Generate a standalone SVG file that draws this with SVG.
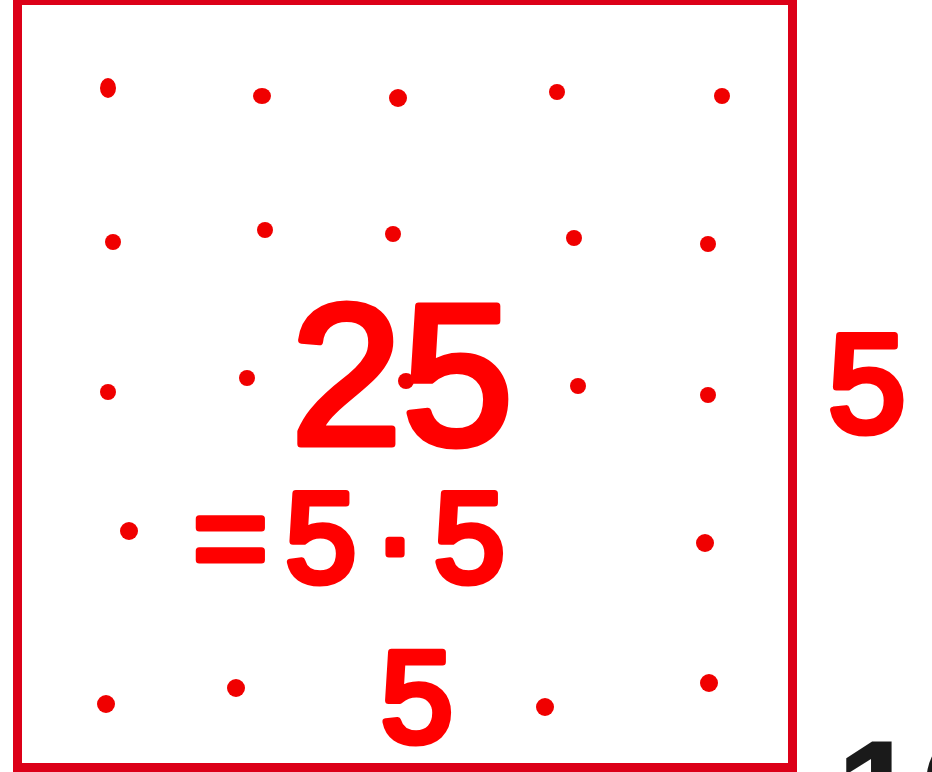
<svg xmlns="http://www.w3.org/2000/svg" width="932" height="772" viewBox="0 0 932 772">
<style>
.dot{fill:#f00000}
.hand{font-family:"Liberation Sans",Arial,sans-serif;fill:#ff0000;stroke:#ff0000;stroke-width:7;stroke-linejoin:round;stroke-linecap:round}
.ink{font-family:"Liberation Sans",Arial,sans-serif;font-weight:bold;fill:#1a1a1a}
</style>
<rect x="0" y="0" width="932" height="772" fill="#ffffff"/>
<g id="square">
<rect x="17.5" y="0.5" width="775" height="767" fill="none" stroke="#dc0018" stroke-width="9"/>
</g>
<g id="dots">
<ellipse class="dot" cx="108" cy="88" rx="8" ry="10"/>
<ellipse class="dot" cx="262" cy="96" rx="9" ry="8"/>
<ellipse class="dot" cx="398" cy="98" rx="9" ry="9"/>
<circle class="dot" cx="557" cy="92" r="8"/>
<circle class="dot" cx="722" cy="96" r="8"/>
<circle class="dot" cx="113" cy="242" r="8"/>
<circle class="dot" cx="265" cy="230" r="8"/>
<circle class="dot" cx="393" cy="234" r="8"/>
<circle class="dot" cx="574" cy="238" r="8"/>
<circle class="dot" cx="708" cy="244" r="8"/>
<circle class="dot" cx="108" cy="392" r="8"/>
<circle class="dot" cx="247" cy="378" r="8"/>
<circle class="dot" cx="406" cy="381" r="8"/>
<circle class="dot" cx="578" cy="386" r="8"/>
<circle class="dot" cx="708" cy="395" r="8"/>
<circle class="dot" cx="129" cy="531" r="9"/>
<circle class="dot" cx="705" cy="543" r="9"/>
<circle class="dot" cx="106" cy="704" r="9"/>
<circle class="dot" cx="236" cy="688" r="9"/>
<circle class="dot" cx="545" cy="707" r="9"/>
<circle class="dot" cx="709" cy="683" r="9"/>
</g>
<g id="labels">
<text class="hand" x="402" y="444" font-size="200" text-anchor="middle">25</text>
<text class="hand" x="193" y="582" font-size="128" textLength="312" lengthAdjust="spacing">=5·5</text>
<text class="hand" x="417" y="742" font-size="130" text-anchor="middle">5</text>
<text class="hand" x="867" y="432" font-size="140" text-anchor="middle">5</text>
<text class="ink" x="836" y="845" font-size="150">10</text>
</g>
</svg>
